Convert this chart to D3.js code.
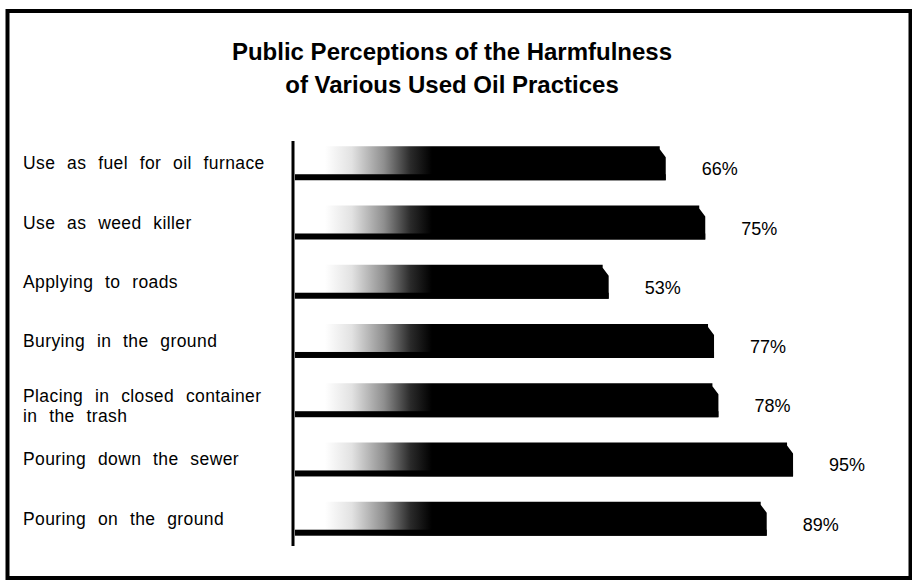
<!DOCTYPE html>
<html>
<head>
<meta charset="utf-8">
<script src="https://cdn.jsdelivr.net/npm/d3@7"></script>
<style>
  html, body { margin: 0; padding: 0; background: #fff; }
  svg { display: block; }
</style>
</head>
<body>
<svg id="chart"></svg>
<script>
// chart data
const titleLines = ['Public Perceptions of the Harmfulness', 'of Various Used Oil Practices'];
const practices = [
  'Use as fuel for oil furnace',
  'Use as weed killer',
  'Applying to roads',
  'Burying in the ground',
  'Placing in closed container\nin the trash',
  'Pouring down the sewer',
  'Pouring on the ground'
];
const harmfulPct = [66, 75, 53, 77, 78, 95, 89];

const width = 912, height = 581;

const svg = d3.select('#chart')
  .attr('width', width)
  .attr('height', height);

// outer frame
svg.append('rect')
  .attr('x', 7.5).attr('y', 11)
  .attr('width', 903).attr('height', 567)
  .attr('fill', 'none')
  .attr('stroke', '#000')
  .attr('stroke-width', 4);

// title
svg.append('text')
  .attr('text-anchor', 'middle')
  .attr('font-family', '"Liberation Sans", Arial, sans-serif')
  .attr('font-weight', 'bold')
  .attr('font-size', 24)
  .selectAll('tspan')
  .data(titleLines)
  .enter().append('tspan')
  .attr('x', 452)
  .attr('y', (d, i) => 60 + i * 33)
  .text(d => d);

// scales
const x = d3.scaleLinear()
  .domain([0, 100])
  .range([376, 815]);

const y = d3.scaleBand()
  .domain(practices)
  .range([121, 561])
  .padding(0.427);

const axisX = 293;
const barStart = axisX + 2;

// gradient that fades the left end of each bar
const defs = svg.append('defs');
const grad = defs.append('linearGradient')
  .attr('id', 'fade')
  .attr('gradientUnits', 'userSpaceOnUse')
  .attr('x1', 325).attr('x2', 432)
  .attr('y1', 0).attr('y2', 0);
grad.append('stop').attr('offset', 0).attr('stop-color', '#fff');
grad.append('stop').attr('offset', 0.25).attr('stop-color', '#e2e2e2');
grad.append('stop').attr('offset', 0.55).attr('stop-color', '#8f8f8f');
grad.append('stop').attr('offset', 0.8).attr('stop-color', '#2a2a2a');
grad.append('stop').attr('offset', 1).attr('stop-color', '#000');

const rows = practices.map((p, i) => ({ name: p, value: harmfulPct[i] }));

const barPath = (d) => {
  const top = y(d.name);
  const bottom = top + y.bandwidth();
  const end = x(d.value);
  return `M${barStart},${top} L${end - 6},${top} L${end - 6},${top + 3} L${end},${top + 11} L${end},${bottom} L${barStart},${bottom} Z`;
};

const bars = svg.append('g');

bars.selectAll('path.bar')
  .data(rows)
  .enter().append('path')
  .attr('class', 'bar')
  .attr('d', barPath)
  .attr('fill', 'url(#fade)');

// dark strip along the bottom of each bar
bars.selectAll('rect.strip')
  .data(rows)
  .enter().append('rect')
  .attr('class', 'strip')
  .attr('x', barStart)
  .attr('y', d => y(d.name) + y.bandwidth() - 6)
  .attr('width', d => x(d.value) - barStart)
  .attr('height', 6)
  .attr('fill', '#000');

// vertical axis line
svg.append('line')
  .attr('x1', axisX).attr('x2', axisX)
  .attr('y1', 141).attr('y2', 546)
  .attr('stroke', '#000')
  .attr('stroke-width', 3);

// category labels
const labels = svg.append('g')
  .attr('font-family', '"Liberation Sans", Arial, sans-serif')
  .attr('font-size', 17.5)
  .attr('letter-spacing', 0.4)
  .attr('word-spacing', 6.5)
  .attr('fill', '#000');

labels.selectAll('text')
  .data(rows)
  .enter().append('text')
  .each(function(d) {
    const lines = d.name.split('\n');
    const mid = y(d.name) + y.bandwidth() / 2;
    const first = mid + 6 - (lines.length - 1) * 4;
    d3.select(this).selectAll('tspan')
      .data(lines)
      .enter().append('tspan')
      .attr('x', 23)
      .attr('y', (l, j) => first + j * 20)
      .text(l => l);
  });

// value labels
svg.append('g')
  .attr('font-family', '"Liberation Sans", Arial, sans-serif')
  .attr('font-size', 18)
  .selectAll('text')
  .data(rows)
  .enter().append('text')
  .attr('x', d => x(d.value) + 36)
  .attr('y', d => y(d.name) + y.bandwidth() / 2 + 12)
  .text(d => d.value + '%');
</script>
</body>
</html>
